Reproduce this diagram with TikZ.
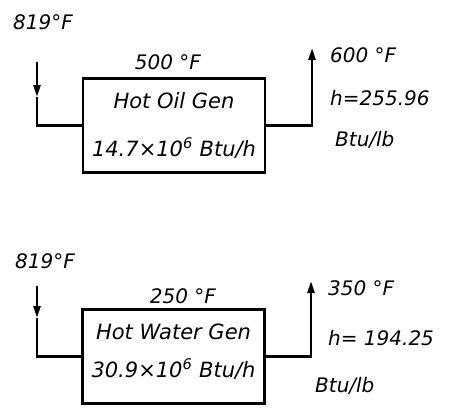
\documentclass[tikz,border=0pt]{standalone}
\usepackage{fontspec}
\newfontfamily\hand{DejaVu Sans}
\usetikzlibrary{arrows.meta,positioning}

\begin{document}
\begin{tikzpicture}[x=1pt,y=-1pt,
    lbl/.style={font=\hand\itshape\fontsize{20}{22}\selectfont,inner sep=0pt},
    unitbox/.style={draw,line width=2.4pt,minimum width=182pt,minimum height=94pt,
      align=center,inner sep=0pt},
    pipe/.style={line width=2.4pt},
    flow/.style={pipe,-{Triangle[length=12pt,width=7pt]}}]
  \useasboundingbox (0,0) rectangle (457,412);
  % hot oil generator
  \node[unitbox,font=\hand\itshape\fontsize{21}{48}\selectfont] (oilgen) at (174,125.5)
    {Hot Oil Gen\\14.7×10\textsuperscript{6} Btu/h};
  \coordinate (oilin) at (37,62);
  \coordinate (oilinmid) at (37,97);
  \coordinate (oilout) at (312,48);
  \draw[flow] (oilin) -- (oilinmid);
  \draw[pipe] (oilinmid) |- (oilgen.west);
  \draw[flow] (oilgen.east) -| (oilout);
  \node[lbl,anchor=west] (oilgas) at (13,22) {819°F};
  \node[lbl] (oilt1) at (168,62) {500 °F};
  \node[lbl,anchor=west] (oilt2) at (330,55) {600 °F};
  \node[lbl,anchor=west] (oilh) at (330,98) {h=255.96};
  \node[lbl,anchor=west] (oilhu) at (335,140) {Btu/lb};
  % hot water generator
  \node[unitbox,font=\hand\itshape\fontsize{21}{38}\selectfont] (watgen) at (173.5,356.5)
    {Hot Water Gen\\30.9×10\textsuperscript{6} Btu/h\\[-26pt]};
  \coordinate (watin) at (37,286);
  \coordinate (watinmid) at (37,318);
  \coordinate (watout) at (311,281);
  \draw[flow] (watin) -- (watinmid);
  \draw[pipe] (watinmid) |- (watgen.west);
  \draw[flow] (watgen.east) -| (watout);
  \node[lbl,anchor=west] (watgas) at (15,261) {819°F};
  \node[lbl] (watt1) at (183,296) {250 °F};
  \node[lbl,anchor=west] (watt2) at (328,288) {350 °F};
  \node[lbl,anchor=west] (wath) at (328,338) {h= 194.25};
  \node[lbl,anchor=west] (wathu) at (315,386) {Btu/lb};
\end{tikzpicture}
\end{document}
